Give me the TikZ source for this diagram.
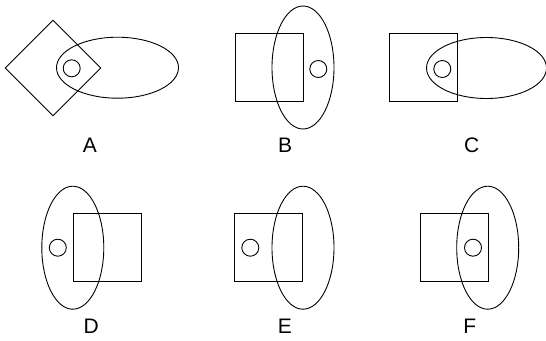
\documentclass[tikz,border=0pt]{standalone}
\usepackage{fontspec}
\setmainfont{Liberation Sans}
\usepackage{tikz}
\usetikzlibrary{shapes.geometric}

\begin{document}
\begin{tikzpicture}[
    x=1pt,y=-1pt,
    shp/.style={draw=black,line width=0.9pt,inner sep=0pt},
    sq/.style={shp,rectangle,minimum width=68pt,minimum height=68pt},
    dia/.style={shp,diamond,minimum width=96pt,minimum height=96pt},
    hell/.style={shp,ellipse,minimum width=122pt,minimum height=61pt},
    vell/.style={shp,ellipse,minimum width=62pt,minimum height=123pt},
    dot/.style={shp,circle,minimum size=17pt},
    lbl/.style={font=\fontsize{21}{24}\selectfont,inner sep=0pt}
  ]
    \useasboundingbox (0,0) rectangle (546,340);
    % A
    \node[dia] (diaA) at (53,68) {};
    \node[hell] (ellA) at (117.5,67.7) {};
    \node[dot] (dotA) at (71.7,68.3) {};
    \node[lbl] (labA) at (90,145.5) {A};
    % B
    \node[sq] (sqB) at (269,67.7) {};
    \node[vell] (ellB) at (303,67.5) {};
    \node[dot] (dotB) at (318.3,69) {};
    \node[lbl] (labB) at (285,145.5) {B};
    % C
    \node[sq] (sqC) at (423.5,67.7) {};
    \node[hell,minimum width=120pt] (ellC) at (486.5,68) {};
    \node[dot] (dotC) at (442.3,69) {};
    \node[lbl] (labC) at (471.7,145.5) {C};
    % D
    \node[vell] (ellD) at (72.8,247.7) {};
    \node[sq] (sqD) at (107.2,247.7) {};
    \node[dot] (dotD) at (57.8,247.7) {};
    \node[lbl] (labD) at (91.3,326.5) {D};
    % E
    \node[sq] (sqE) at (268.7,247.7) {};
    \node[vell] (ellE) at (303,247.7) {};
    \node[dot] (dotE) at (250.3,247.7) {};
    \node[lbl] (labE) at (284.8,326.5) {E};
    % F
    \node[sq] (sqF) at (454.2,247.7) {};
    \node[vell] (ellF) at (487.7,247.7) {};
    \node[dot] (dotF) at (473,247.7) {};
    \node[lbl] (labF) at (469.8,326.5) {F};
\end{tikzpicture}
\end{document}
